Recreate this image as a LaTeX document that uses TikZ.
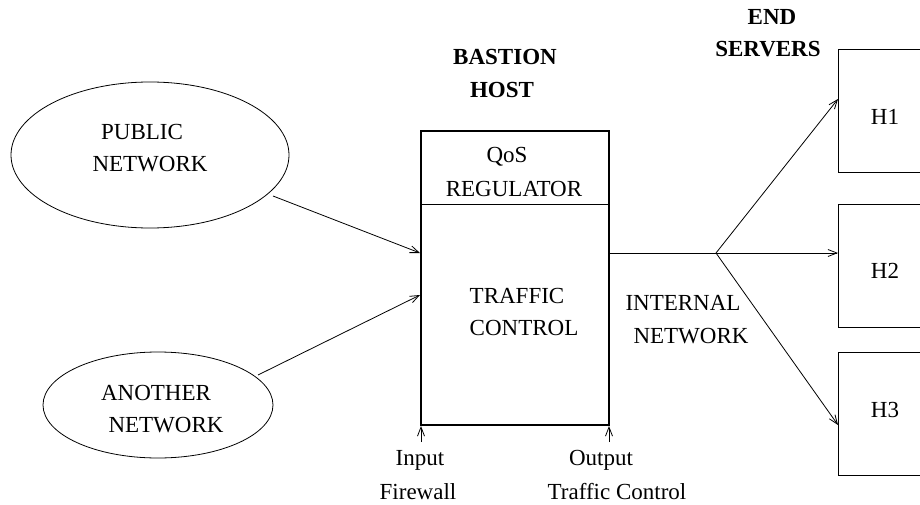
\documentclass[tikz,border=0pt]{standalone}
\usepackage{fontspec}
\setmainfont{Liberation Serif}
\usetikzlibrary{arrows.meta,shapes.geometric}
\tikzset{
  lbl/.style={inner sep=0pt,font=\fontsize{23}{32}\selectfont},
  blbl/.style={inner sep=0pt,font=\fontsize{23}{32}\selectfont\bfseries},
  net/.style={draw,ellipse,inner sep=0pt,line width=0.8pt},
  boxx/.style={draw,line width=1.2pt},
  conn/.style={line width=0.8pt,-{Straight Barb[length=9pt,width=7pt,line width=0.8pt]}},
  plain/.style={line width=0.8pt}
}
\begin{document}
\begin{tikzpicture}[x=1pt,y=-1pt]
\clip (0,0) rectangle (920,505);
% ellipses
\node[net,minimum width=278pt,minimum height=146pt] (pub) at (150,155) {};
\node[net,minimum width=230pt,minimum height=106pt] (ano) at (158,405) {};
\node[lbl] (pubt1) at (142,132) {PUBLIC};
\node[lbl] (pubt2) at (150,164) {NETWORK};
\node[lbl] (anot1) at (156,393) {ANOTHER};
\node[lbl] (anot2) at (166,425) {NETWORK};
% bastion box
\node[boxx,minimum width=188pt,minimum height=294pt,inner sep=0pt] (bh) at (515,278) {};
\coordinate (divl) at (421,204);
\coordinate (divr) at (609,204);
\draw[plain] (divl) -- (divr);
\node[lbl] (qos) at (507,157) {QoS};
\node[lbl] (reg) at (514,189) {REGULATOR};
\node[lbl] (tr) at (517,296) {TRAFFIC};
\node[lbl] (ct) at (524,328) {CONTROL};
\node[blbl] (bas) at (505,57) {BASTION};
\node[blbl] (host) at (502,90) {HOST};
% inputs
\coordinate (pubo) at (273,196);
\coordinate (in1) at (420,253);
\coordinate (anoo) at (258,375);
\coordinate (in2) at (420,295);
\draw[conn] (pubo) -- (in1);
\draw[conn] (anoo) -- (in2);
% bottom arrows
\coordinate (ib) at (421,442);
\coordinate (it) at (421,426);
\coordinate (ob) at (609,442);
\coordinate (ot) at (609,426);
\draw[conn] (ib) -- (it);
\draw[conn] (ob) -- (ot);
\node[lbl] (inp) at (420,460) {Input};
\node[lbl] (fw) at (418,492) {Firewall};
\node[lbl] (outp) at (601,460) {Output};
\node[lbl] (tc) at (617,492) {Traffic Control};
% internal network
\coordinate (bout) at (609,253);
\coordinate (junc) at (716,253);
\draw[plain] (bout) -- (junc);
\node[lbl] (int1) at (683,303) {INTERNAL};
\node[lbl] (int2) at (691,336) {NETWORK};
% servers
\node[draw,line width=0.8pt,minimum width=140pt,minimum height=123pt,inner sep=0pt,anchor=north west] (h1) at (838,49) {};
\node[draw,line width=0.8pt,minimum width=140pt,minimum height=123pt,inner sep=0pt,anchor=north west] (h2) at (838,204) {};
\node[draw,line width=0.8pt,minimum width=140pt,minimum height=123pt,inner sep=0pt,anchor=north west] (h3) at (838,352) {};
\node[lbl] (h1t) at (885,117) {H1};
\node[lbl] (h2t) at (885,271) {H2};
\node[lbl] (h3t) at (885,410) {H3};
\node[blbl] (end1) at (772,17) {END};
\node[blbl] (end2) at (768,49) {SERVERS};
\coordinate (h1in) at (838,99);
\coordinate (h2in) at (838,253);
\coordinate (h3in) at (838,425);
\draw[conn] (junc) -- (h1in);
\draw[conn] (junc) -- (h2in);
\draw[conn] (junc) -- (h3in);
\end{tikzpicture}
\end{document}
